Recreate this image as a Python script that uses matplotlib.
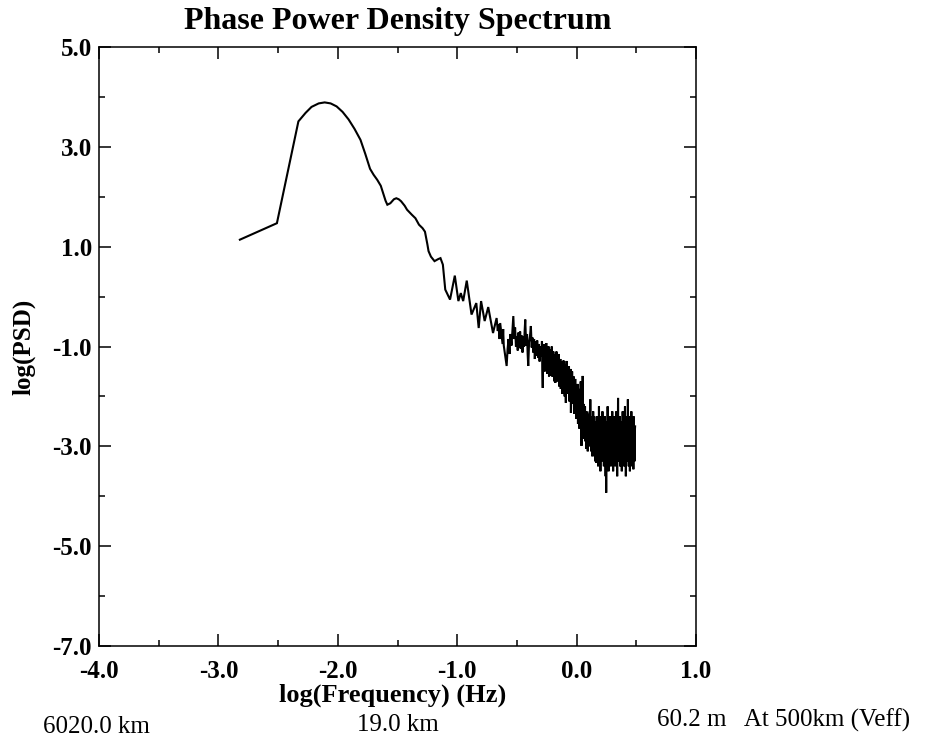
import numpy as np
import matplotlib
matplotlib.use("Agg")
import matplotlib.pyplot as plt
from matplotlib.ticker import MultipleLocator, FormatStrFormatter

plt.rcParams['axes.unicode_minus'] = False
plt.rcParams['font.family'] = ['Liberation Serif', 'DejaVu Serif']

# ---- data: log10 frequency (Hz) vs log10 PSD ----
# smooth low-frequency part (explicit pairs)
x_low = [-2.82, -2.51, -2.33, -2.27, -2.22, -2.16, -2.11, -2.06, -2.01, -1.96,
         -1.91, -1.86, -1.81, -1.77, -1.73, -1.70, -1.67, -1.64, -1.62, -1.60,
         -1.585, -1.56, -1.53, -1.51, -1.49, -1.47, -1.44, -1.42, -1.38, -1.35,
         -1.32, -1.29, -1.27, -1.25, -1.24, -1.22, -1.19, -1.16, -1.14, -1.12,
         -1.10, -1.06, -1.02, -0.99, -0.97, -0.95, -0.92, -0.88, -0.84, -0.82,
         -0.80, -0.77, -0.74, -0.70, -0.67, -0.66]
y_low = [1.14, 1.47, 3.51, 3.68, 3.80, 3.87, 3.89, 3.87, 3.81, 3.70,
         3.55, 3.36, 3.14, 2.86, 2.56, 2.44, 2.34, 2.22, 2.07, 1.92,
         1.84, 1.87, 1.95, 1.97, 1.95, 1.91, 1.82, 1.74, 1.64, 1.57,
         1.44, 1.37, 1.30, 1.05, 0.91, 0.80, 0.71, 0.75, 0.77, 0.64,
         0.14, -0.06, 0.42, -0.09, 0.07, -0.09, 0.32, -0.36, -0.13, -0.63,
         -0.09, -0.49, -0.21, -0.73, -0.43, -0.69]

# mid band (explicit pairs)
x_mid = [-0.655, -0.645, -0.64, -0.63, -0.62, -0.615, -0.61, -0.60, -0.593, -0.586,
         -0.578, -0.57, -0.562, -0.555, -0.545, -0.535, -0.53, -0.522, -0.515, -0.508,
         -0.50, -0.493, -0.487, -0.48, -0.473, -0.467, -0.46, -0.453, -0.447, -0.44,
         -0.435, -0.43, -0.423, -0.415, -0.41, -0.405, -0.398, -0.39, -0.383, -0.376,
         -0.37, -0.363, -0.356, -0.35, -0.343, -0.337, -0.33, -0.323, -0.316, -0.31,
         -0.303, -0.297]
y_mid = [-0.55, -0.85, -0.53, -0.75, -0.95, -0.65, -0.98, -1.15, -1.26, -1.39,
         -1.05, -0.85, -1.15, -0.75, -0.98, -0.60, -0.39, -0.85, -0.62, -1.00,
         -0.80, -1.08, -0.72, -1.02, -0.70, -1.05, -0.78, -1.12, -0.80, -1.00,
         -0.68, -0.46, -0.98, -0.75, -1.15, -1.39, -0.92, -0.78, -0.59, -1.02,
         -0.82, -1.12, -0.85, -1.25, -0.90, -1.18, -0.88, -1.22, -0.95, -1.30,
         -1.00, -1.20]

# noisy band, -0.29 .. 0.10 (evenly spaced samples)
y_noise1 = [-0.89, -1.45, -1.83, -0.95, -1.40, -1.05, -1.50, -0.95, -1.35, -1.00,
            -1.40, -0.93, -1.50, -1.05, -1.55, -1.10, -1.45, -1.00, -1.60, -1.15,
            -1.59, -1.05, -1.55, -1.10, -1.45, -1.00, -1.60, -1.20, -1.50, -1.10,
            -1.60, -1.20, -1.70, -1.15, -1.73, -1.25, -1.65, -1.10, -1.55, -1.20,
            -1.70, -1.25, -1.60, -1.15, -1.80, -1.30, -1.65, -1.25, -1.85, -1.35,
            -1.75, -1.30, -1.95, -1.40, -1.70, -1.28, -1.85, -1.35, -2.00, -1.45,
            -1.80, -2.13, -1.50, -1.29, -1.85, -1.40, -1.95, -1.45, -1.80, -1.40,
            -2.10, -1.55, -1.95, -1.45, -2.33, -1.60, -2.05, -1.50, -2.15, -1.65,
            -2.10, -1.60, -2.35, -1.75, -2.20, -1.65, -2.30, -1.80, -2.45, -1.85,
            -2.30, -1.75, -2.55, -1.95, -2.40, -1.85, -2.65, -2.00, -2.45, -1.70,
            -2.70, -2.99, -2.20, -2.60, -1.59, -2.45, -2.15, -2.85, -2.26, -2.70,
            -2.20, -2.90, -2.40, -3.05, -2.30, -2.80, -2.45, -3.10, -2.35, -2.85]
x_noise1_range = (-0.29, 0.10)

# noisy band, 0.105 .. 0.49 (evenly spaced samples)
y_noise2 = [-2.6, -3.0, -2.3, -2.9, -2.06, -2.8, -2.5, -3.1, -2.4, -2.9,
            -2.7, -3.2, -2.5, -3.0, -2.3, -3.1, -2.6, -2.9, -2.4, -3.2,
            -2.8, -3.3, -2.5, -3.0, -2.7, -3.33, -2.6, -3.1, -2.4, -2.9,
            -2.7, -3.4, -2.6, -3.0, -2.2, -3.1, -2.5, -2.9, -2.7, -3.5,
            -2.8, -3.2, -2.4, -3.0, -2.6, -3.3, -2.3, -2.9, -2.7, -3.1,
            -2.5, -3.4, -2.8, -3.0, -2.4, -3.2, -2.9, -3.6, -2.6, -3.93,
            -2.7, -3.1, -2.5, -3.3, -2.2, -3.0, -2.8, -3.5, -2.6, -3.2,
            -2.9, -3.3, -2.4, -3.0, -2.7, -3.4, -2.5, -3.1, -2.8, -3.0,
            -2.3, -3.2, -2.7, -3.5, -2.6, -2.9, -2.4, -3.3, -2.8, -3.1,
            -2.6, -3.4, -2.7, -3.0, -2.3, -3.2, -2.9, -3.6, -2.5, -3.1,
            -2.03, -3.0, -2.6, -3.3, -2.8, -3.1, -2.4, -3.4, -2.7, -3.0,
            -2.5, -3.2, -2.9, -3.5, -2.6, -3.0, -2.3, -3.3, -2.8, -3.1,
            -2.7, -3.4, -2.5, -3.0, -2.2, -3.2, -2.6, -3.6, -2.8, -3.0,
            -2.4, -3.3, -2.7, -3.1, -2.06, -2.9, -2.6, -3.4, -2.5, -3.0,
            -2.8, -3.5, -2.4, -3.1, -2.7, -3.3, -2.3, -3.0, -2.6, -3.4,
            -2.5, -3.2, -2.8, -3.46, -2.4, -3.0, -2.6, -3.3, -2.7, -2.6]
x_noise2_range = (0.105, 0.49)

x_ticks = [-4.0, -3.0, -2.0, -1.0, 0.0, 1.0]
y_ticks = [5.0, 3.0, 1.0, -1.0, -3.0, -5.0, -7.0]

title = "Phase Power Density Spectrum"
xlabel = "log(Frequency) (Hz)"
ylabel = "log(PSD)"
note_left = "6020.0 km"
note_mid = "19.0 km"
note_right = "60.2 m   At 500km (Veff)"

# ---- assemble ----
x_n1 = np.linspace(x_noise1_range[0], x_noise1_range[1], len(y_noise1))
x_n2 = np.linspace(x_noise2_range[0], x_noise2_range[1], len(y_noise2))
x_all = np.concatenate([x_low, x_mid, x_n1, x_n2])
y_all = np.concatenate([y_low, y_mid, y_noise1, y_noise2])

W, H = 929, 751
fig = plt.figure(figsize=(W / 100, H / 100), dpi=100)
L, R, T, B = 99, 696, 47, 646
ax = fig.add_axes([L / W, 1 - B / H, (R - L) / W, (B - T) / H])

ax.plot(x_all, y_all, color='black', lw=1.5, solid_joinstyle='miter')

ax.set_xlim(-4.0, 1.0)
ax.set_ylim(-7.0, 5.0)
ax.set_xticks(x_ticks)
ax.set_yticks(y_ticks)
ax.xaxis.set_minor_locator(MultipleLocator(0.5))
ax.yaxis.set_minor_locator(MultipleLocator(1.0))
ax.xaxis.set_major_formatter(FormatStrFormatter('%.1f'))
ax.yaxis.set_major_formatter(FormatStrFormatter('%.1f'))

ax.tick_params(which='both', direction='in', top=True, right=True,
               width=1.1, colors='black')
ax.tick_params(which='major', length=8.5)
ax.tick_params(which='minor', length=4.5)
ax.tick_params(axis='x', which='major', pad=10)
ax.tick_params(axis='y', which='major', pad=5)
for lab in ax.get_xticklabels() + ax.get_yticklabels():
    lab.set_fontweight('bold')
    lab.set_fontsize(18)
for s in ax.spines.values():
    s.set_linewidth(1.1)

ax.set_xlabel(xlabel, fontsize=19, fontweight='bold', labelpad=0)
ax.xaxis.label.set_va('center')
ax.xaxis.set_label_coords((392.5 - L) / (R - L), -(695 - B) / (B - T))
ax.set_ylabel(ylabel, fontsize=18, fontweight='bold', va='center')
ax.yaxis.set_label_coords((24 - L) / (R - L), 0.5)

fig.text(((L + R) / 2) / W, 1 - 22 / H, title, ha='center', va='center',
         fontsize=23, fontweight='bold')
fig.text(43 / W, 1 - 727 / H, note_left, ha='left', va='center', fontsize=18)
fig.text(357 / W, 1 - 725 / H, note_mid, ha='left', va='center', fontsize=18)
fig.text(657 / W, 1 - 720 / H, note_right, ha='left', va='center', fontsize=18)

fig.savefig("out.png", dpi=100)
